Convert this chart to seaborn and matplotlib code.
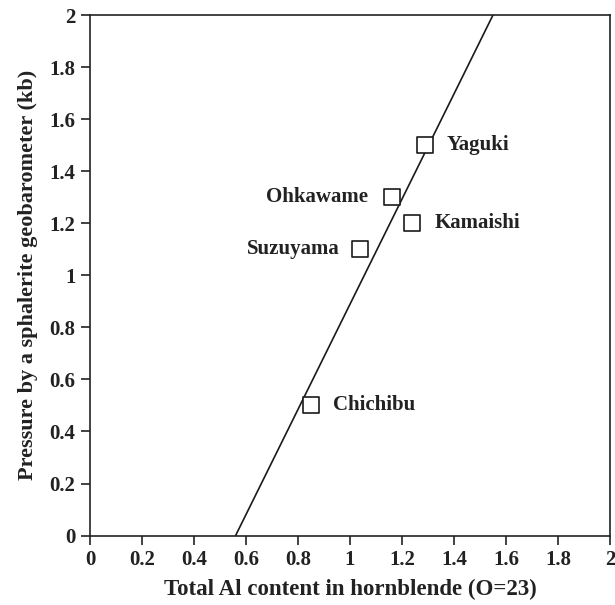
import matplotlib
matplotlib.use("Agg")
import matplotlib.pyplot as plt
import seaborn as sns
import pandas as pd

# data
names = ["Yaguki", "Ohkawame", "Kamaishi", "Suzuyama", "Chichibu"]
al_total = [1.29, 1.16, 1.24, 1.04, 0.85]
pressure = [1.50, 1.30, 1.20, 1.10, 0.50]
line_x = [0.56, 1.55]
line_y = [0.0, 2.0]
ticks = [0, 0.2, 0.4, 0.6, 0.8, 1, 1.2, 1.4, 1.6, 1.8, 2]
tick_labels = ["0", "0.2", "0.4", "0.6", "0.8", "1", "1.2", "1.4", "1.6", "1.8", "2"]

sns.set_style("white")
plt.rcParams["font.family"] = ["Liberation Serif", "DejaVu Serif"]
plt.rcParams["font.weight"] = "bold"

fig = plt.figure(figsize=(6.15, 6.05), dpi=100)
ax = fig.add_axes([0.1463, 0.1147, 0.8456, 0.8605])

df = pd.DataFrame({"x": al_total, "y": pressure, "name": names})
sns.lineplot(x=line_x, y=line_y, ax=ax, color="#1a1a1a", linewidth=1.2)
sns.scatterplot(data=df, x="x", y="y", ax=ax, marker="s", s=120,
                facecolor="white", edgecolor="#1a1a1a", linewidth=1.2, zorder=3)

offsets = {"Yaguki": (15, "left"), "Ohkawame": (-17, "right"), "Kamaishi": (16, "left"),
           "Suzuyama": (-15, "right"), "Chichibu": (16, "left")}
for n, x, y in zip(names, al_total, pressure):
    dx, ha = offsets[n]
    ax.annotate(n, (x, y), xytext=(dx, 0), textcoords="offset points",
                ha=ha, va="center", fontsize=15, fontweight="bold", color="#222222")

ax.set_xlim(0, 2)
ax.set_ylim(0, 2)
ax.set_xticks(ticks)
ax.set_xticklabels(tick_labels)
ax.set_yticks(ticks)
ax.set_yticklabels(tick_labels)
ax.tick_params(axis="both", direction="out", length=6.5, width=1.2, color="#222222",
               labelsize=15, labelcolor="#222222", pad=4, bottom=True, left=True)
for lab in ax.get_xticklabels() + ax.get_yticklabels():
    lab.set_fontweight("bold")
for sp in ax.spines.values():
    sp.set_color("#222222")
    sp.set_linewidth(1.2)

ax.set_xlabel("Total Al content in hornblende (O=23)", fontsize=16.5, fontweight="bold",
              color="#222222", labelpad=6)
ax.set_ylabel("Pressure by a sphalerite geobarometer (kb)", fontsize=16, fontweight="bold",
              color="#222222", labelpad=8)

fig.savefig("out.png", dpi=100)
